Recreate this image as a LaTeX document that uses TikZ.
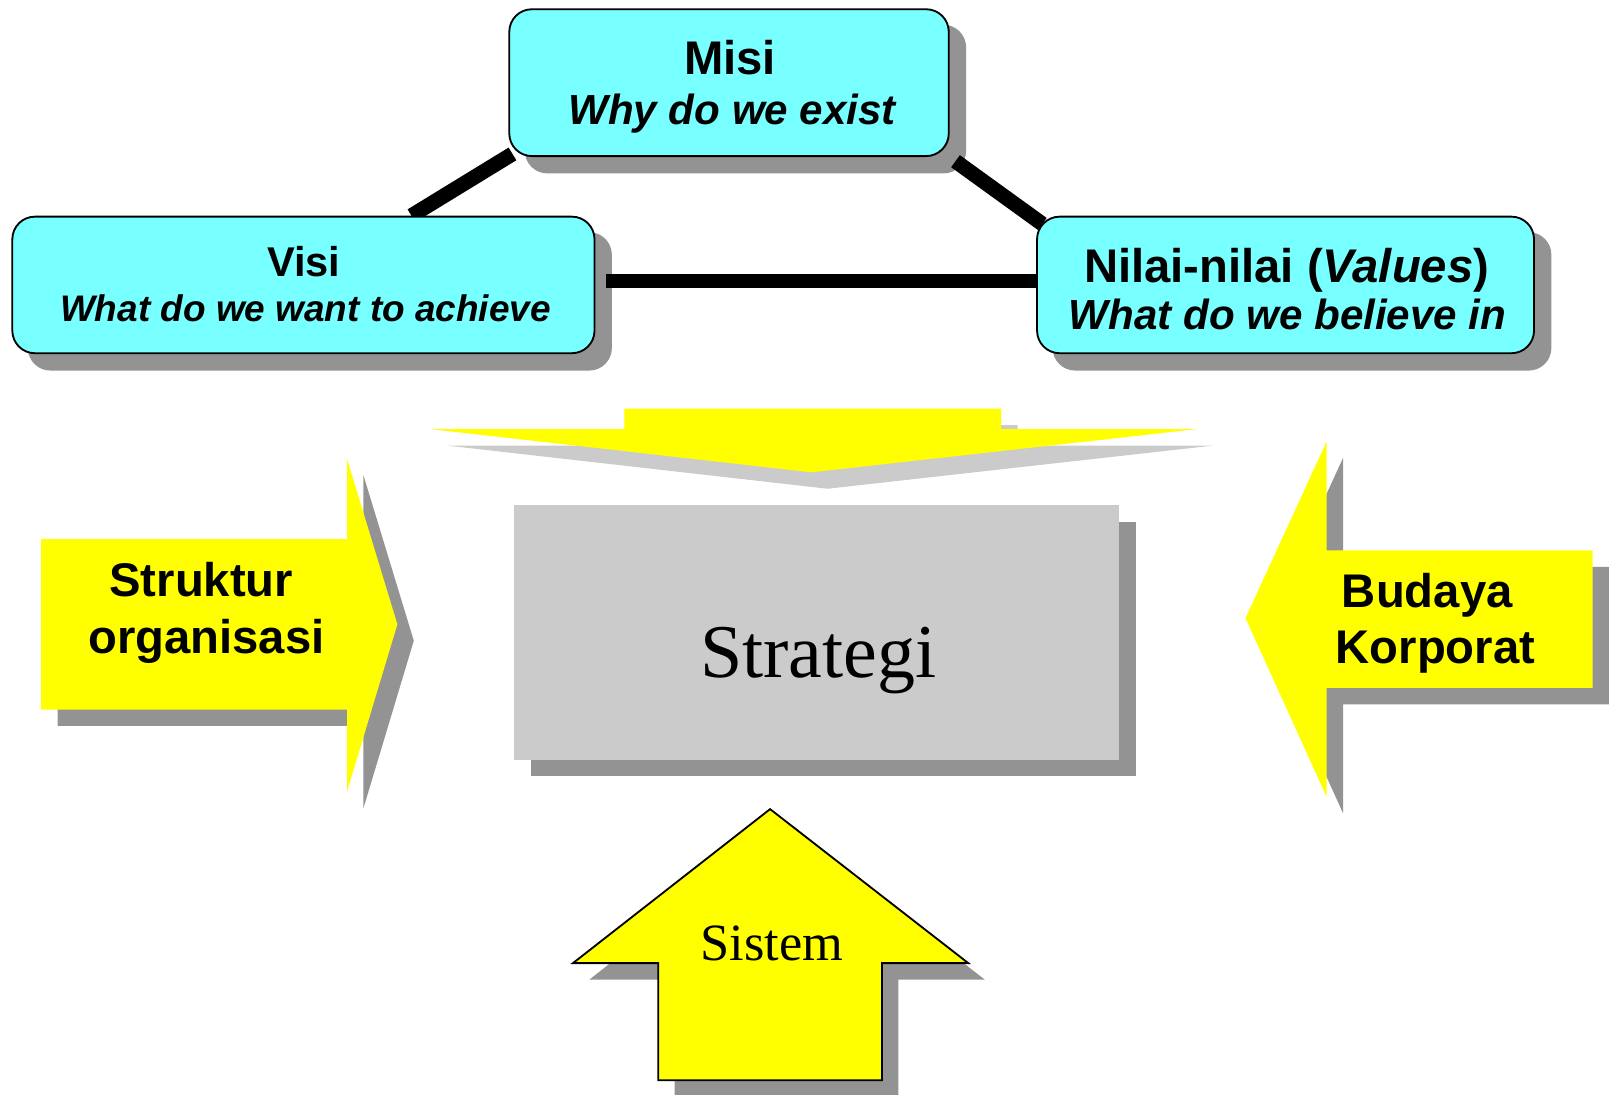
\documentclass[tikz,border=0pt]{standalone}
\usepackage{fontspec}
\newfontfamily\sansf{Liberation Sans}
\newfontfamily\seriff{Liberation Serif}
\usetikzlibrary{shadows,calc}
\definecolor{cyanbox}{RGB}{120,255,255}
\definecolor{shgray}{RGB}{147,147,147}
\definecolor{ltgray}{RGB}{203,203,203}
\definecolor{yel}{RGB}{255,255,0}
\pgfdeclarelayer{bg}
\pgfsetlayers{bg,main}
\begin{document}
\begin{tikzpicture}[x=1pt,y=-1pt,
  cbox/.style={draw=black,line width=1.8pt,fill=cyanbox,rounded corners=22pt,inner sep=0pt},
  boxshadow/.style={fill=shgray,rounded corners=22pt},
  conn/.style={line width=14.5pt,black},
  lb/.style={anchor=base,inner sep=0pt,font=\sansf\bfseries\fontsize{#1}{#1}\selectfont},
  lbi/.style={anchor=base,inner sep=0pt,font=\sansf\bfseries\itshape\fontsize{#1}{#1}\selectfont},
  ls/.style={anchor=base,inner sep=0pt,font=\seriff\fontsize{#1}{#1}\selectfont},
  shd/.style={fill=shgray,shift={(16,16)}},
  yarrow/.style={fill=yel}]
\useasboundingbox (0,0) rectangle (1568,1066);

% cyan boxes
\node[cbox,minimum width=428pt,minimum height=143pt] (misi) at (710,80.5) {};
\node[cbox,minimum width=567pt,minimum height=133pt] (visi) at (295.5,277.5) {};
\node[cbox,minimum width=484pt,minimum height=133pt] (nilai) at (1252,277.5) {};

\begin{pgfonlayer}{bg}
  \fill[boxshadow] ([shift={(16,16)}]misi.south west) rectangle ([shift={(16,16)}]misi.north east);
  \fill[boxshadow] ([shift={(16,16)}]visi.south west) rectangle ([shift={(16,16)}]visi.north east);
  \fill[boxshadow] ([shift={(16,16)}]nilai.south west) rectangle ([shift={(16,16)}]nilai.north east);
  \draw[conn] ([shift={(4,-3)}]misi.south west) -- ($(visi.north west)!0.685!(visi.north east)$);
  \draw[conn,shorten <=7pt] (misi.south east) -- ([shift={(6,8)}]nilai.north west);
  \draw[conn] ([shift={(10,-3.8)}]visi.east) -- ([yshift=3.8pt]nilai.west);
\end{pgfonlayer}

\node[lb=46] (misit) at (711,73) {Misi};
\node[lbi=41] (misis) at (713,121) {Why do we exist};
\node[lb=40.5] (visit) at (296,269) {Visi};
\node[lbi=36] (visis) at (297.5,313) {What do we want to achieve};
\node[lb=46] (nilait) at (1253,275) {Nilai-nilai (\textit{Values})};
\node[lbi=41] (nilais) at (1254,321) {What do we believe in};

% top arrow
\fill[fill=ltgray,shift={(16,16)}] (608,398) -- (975,398) -- (975,418) -- (1165,418) -- (790,460) -- (420,418) -- (608,418) -- cycle;
\fill[yarrow] (608,398) -- (975,398) -- (975,418) -- (1165,418) -- (790,460) -- (420,418) -- (608,418) -- cycle;

% left arrow
\fill[shd] (40,525) -- (338,525) -- (338,447) -- (387,608) -- (338,771) -- (338,691) -- (40,691) -- cycle;
\fill[yarrow] (40,525) -- (338,525) -- (338,447) -- (387,608) -- (338,771) -- (338,691) -- (40,691) -- cycle;
\node[lb=46] (struk) at (196,581) {Struktur};
\node[lb=46] (org) at (201,636) {organisasi};

% right arrow
\fill[shd] (1551,536) -- (1292,536) -- (1292,430) -- (1213,602) -- (1292,776) -- (1292,670) -- (1551,670) -- cycle;
\fill[yarrow] (1551,536) -- (1292,536) -- (1292,430) -- (1213,602) -- (1292,776) -- (1292,670) -- (1551,670) -- cycle;
\node[lb=46] (bud) at (1390,592) {Budaya};
\node[lb=46] (kor) at (1398,646) {Korporat};

% strategi
\node[fill=ltgray,inner sep=0pt,minimum width=589pt,minimum height=248pt,
  general shadow={fill=shgray,shadow xshift=16pt,shadow yshift=-16pt}] (strat) at (795.5,616) {};
\node[ls=74] (stratt) at (797,660) {Strategi};

% bottom arrow
\fill[shd] (750,788) -- (943,938) -- (859,938) -- (859,1052) -- (641,1052) -- (641,938) -- (558,938) -- cycle;
\filldraw[fill=yel,draw=black,line width=1.8pt] (750,788) -- (943,938) -- (859,938) -- (859,1052) -- (641,1052) -- (641,938) -- (558,938) -- cycle;
\node[ls=51] (sis) at (752,935) {Sistem};
\end{tikzpicture}
\end{document}
